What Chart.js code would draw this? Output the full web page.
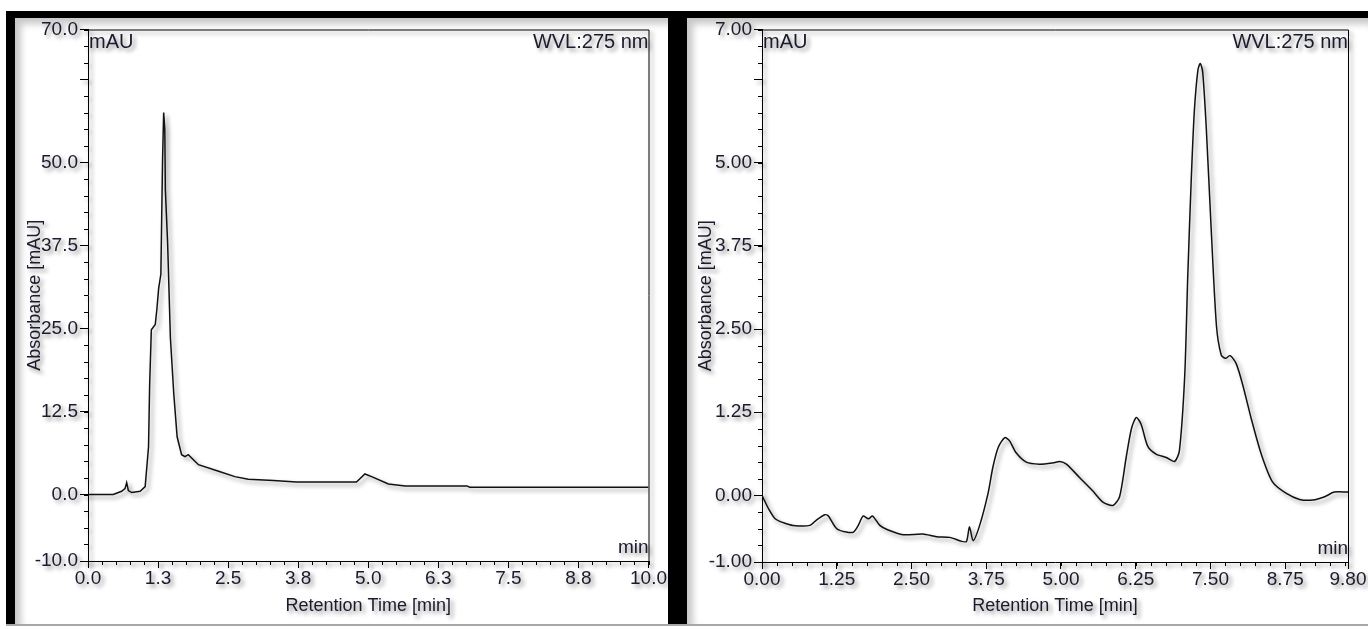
<!DOCTYPE html>
<html>
<head>
<meta charset="utf-8">
<script src="https://cdn.jsdelivr.net/npm/chart.js@4.4.1/dist/chart.umd.min.js"></script>
<style>
  html, body { margin: 0; padding: 0; background: #fff; width: 1368px; height: 629px; overflow: hidden; }
  .panel { position: absolute; background: #fff; box-shadow: inset 6px 6px 7px rgba(0,0,0,0.22); }
  .panel canvas { position: absolute; left: 0; top: 0; }
  .bar { position: absolute; background: #000; }
</style>
</head>
<body>
<div class="panel" id="panelL" style="left:15px;top:18px;width:653px;height:606px"><canvas id="chartL" width="653" height="606"></canvas></div>
<div class="panel" id="panelR" style="left:687px;top:18px;width:681px;height:606px"><canvas id="chartR" width="681" height="606"></canvas></div>
<div class="bar" style="left:6px;top:11px;width:1362px;height:7px"></div>
<div class="bar" style="left:6px;top:11px;width:9px;height:615px"></div>
<div class="bar" style="left:668px;top:11px;width:19px;height:615px"></div>
<div style="position:absolute;left:6px;top:624px;width:1362px;height:2px;background:#a8a8a8"></div>
<script>
// left chromatogram (0 - 10 min)
const timesL = [0, 0.45, 0.6, 0.66, 0.69, 0.72, 0.78, 0.93, 1.02, 1.08, 1.1, 1.13, 1.2, 1.23, 1.26, 1.3, 1.33, 1.35, 1.37, 1.38,
  1.42, 1.47, 1.53, 1.59, 1.67, 1.73, 1.79, 1.97, 2.33, 2.62, 2.86, 3.31, 3.72, 4.79, 4.94, 5.06, 5.36, 5.66, 6.76, 6.81, 10.0];
const absL = [0, 0, 0.5, 0.9, 1.8, 0.6, 0.3, 0.5, 1.2, 7.2, 16.6, 24.8, 25.6, 28, 31, 33.2, 50.3, 57.5, 55, 45.9,
  38, 23.6, 15.2, 8.7, 6.0, 5.7, 6.0, 4.5, 3.5, 2.7, 2.3, 2.1, 1.9, 1.9, 3.1, 2.7, 1.6, 1.3, 1.3, 1.1, 1.1];
const xTicksL = [0, 1.25, 2.5, 3.75, 5, 6.25, 7.5, 8.75, 10];
const xLabelsL = ['0.0', '1.3', '2.5', '3.8', '5.0', '6.3', '7.5', '8.8', '10.0'];
const yTicksL = [-10, 0, 12.5, 25, 37.5, 50, 62.5, 70];
const yLabelsL = ['-10.0', '0.0', '12.5', '25.0', '37.5', '50.0', '', '70.0'];

// right chromatogram (0 - 9.8 min)
const timesR = [0, 0.11, 0.22, 0.36, 0.52, 0.8, 0.91, 1.05, 1.11, 1.25, 1.41, 1.53, 1.61, 1.69, 1.78, 1.85, 1.97, 2.11, 2.36, 2.69,
  2.92, 3.14, 3.34, 3.42, 3.47, 3.53, 3.64, 3.78, 3.86, 3.95, 4.06, 4.14, 4.25, 4.42, 4.64, 4.87, 4.98, 5.09, 5.31, 5.53,
  5.7, 5.87, 5.98, 6.09, 6.18, 6.26, 6.34, 6.45, 6.59, 6.76, 6.9, 6.98, 7.07, 7.12, 7.18, 7.23, 7.29, 7.33, 7.37, 7.43,
  7.51, 7.6, 7.68, 7.75, 7.83, 7.93, 8.04, 8.18, 8.35, 8.54, 8.77, 8.99, 9.21, 9.41, 9.57, 9.8];
const absR = [0, -0.2, -0.35, -0.41, -0.45, -0.45, -0.37, -0.29, -0.31, -0.5, -0.55, -0.55, -0.45, -0.31, -0.35, -0.31, -0.45, -0.52, -0.59, -0.58,
  -0.62, -0.63, -0.69, -0.69, -0.47, -0.68, -0.45, 0.03, 0.42, 0.72, 0.87, 0.82, 0.64, 0.5, 0.47, 0.49, 0.51, 0.47, 0.27, 0.07,
  -0.1, -0.15, -0.02, 0.57, 1.01, 1.17, 1.07, 0.74, 0.62, 0.57, 0.51, 0.67, 1.81, 3.29, 4.78, 5.77, 6.39, 6.49, 6.36, 5.52,
  4.04, 2.55, 2.11, 2.06, 2.1, 1.98, 1.66, 1.16, 0.62, 0.2, 0.03, -0.06, -0.07, -0.02, 0.05, 0.05];
const xTicksR = [0, 1.25, 2.5, 3.75, 5, 6.25, 7.5, 8.75, 9.8];
const xLabelsR = ['0.00', '1.25', '2.50', '3.75', '5.00', '6.25', '7.50', '8.75', '9.80'];
const yTicksR = [-1, 0, 1.25, 2.5, 3.75, 5, 6.25, 7];
const yLabelsR = ['-1.00', '0.00', '1.25', '2.50', '3.75', '5.00', '', '7.00'];

const FONT = '"Liberation Sans", Arial, sans-serif';
const INK = '#1b1b2e';

function makeChart(id, cfg) {
  const decor = {
    id: 'decor',
    beforeDraw(chart) {
      const ctx = chart.ctx;
      ctx.save();
      ctx.shadowColor = 'rgba(0,0,0,0.45)';
      ctx.shadowBlur = 4;
      ctx.shadowOffsetX = 3;
      ctx.shadowOffsetY = 3;
    },
    afterDraw(chart) {
      const ctx = chart.ctx;
      const a = chart.chartArea;
      const xs = chart.scales.x, ys = chart.scales.y;
      ctx.strokeStyle = '#000';
      ctx.lineWidth = 1;
      ctx.beginPath();
      ctx.moveTo(a.left, a.top + 0.5);
      ctx.lineTo(a.right + 0.5, a.top + 0.5);
      ctx.lineTo(a.right + 0.5, a.bottom);
      ctx.stroke();
      // minor ticks
      ctx.beginPath();
      for (let v = xs.min; v <= xs.max + 1e-9; v += cfg.xMinor) {
        const px = Math.round(xs.getPixelForValue(v)) + 0.5;
        ctx.moveTo(px, a.bottom);
        ctx.lineTo(px, a.bottom + 4);
      }
      for (let v = ys.min; v <= ys.max + 1e-9; v += cfg.yMinor) {
        const py = Math.round(ys.getPixelForValue(v)) + 0.5;
        ctx.moveTo(a.left, py);
        ctx.lineTo(a.left - 4, py);
      }
      ctx.stroke();
      ctx.fillStyle = INK;
      ctx.font = '20px ' + FONT;
      ctx.textBaseline = 'middle';
      ctx.textAlign = 'left';
      ctx.fillText('mAU', a.left + 1, a.top + 13);
      ctx.textAlign = 'right';
      ctx.fillText('WVL:275 nm', a.right, a.top + 13);
      ctx.font = '19px ' + FONT;
      ctx.fillText('min', a.right, a.bottom - 13);
      ctx.restore();
    }
  };

  return new Chart(document.getElementById(id), {
    type: 'line',
    data: {
      datasets: [{
        data: cfg.times.map((t, i) => ({ x: t, y: cfg.values[i] })),
        borderColor: '#111',
        borderWidth: 1.5,
        pointRadius: 0,
        tension: cfg.tension,
        fill: false
      }]
    },
    options: {
      responsive: false,
      animation: false,
      events: [],
      layout: { autoPadding: false, padding: { left: 0, top: cfg.padTop, right: cfg.padRight, bottom: 0 } },
      plugins: { legend: { display: false }, tooltip: { enabled: false } },
      scales: {
        x: {
          type: 'linear',
          min: cfg.xTicks[0],
          max: cfg.xTicks[cfg.xTicks.length - 1],
          afterBuildTicks: s => { s.ticks = cfg.xTicks.map(v => ({ value: v })); },
          afterFit: s => { s.height = cfg.xHeight; },
          grid: { drawOnChartArea: false, tickLength: 7, tickColor: '#000' },
          border: { color: '#000', width: 1 },
          ticks: {
            autoSkip: false, maxRotation: 0, padding: 1, color: INK,
            font: { family: FONT, size: 19, lineHeight: 1 },
            callback: (v, i) => cfg.xLabels[i]
          },
          title: {
            display: true, text: 'Retention Time [min]', color: INK,
            font: { family: FONT, size: 18 }, padding: { top: 0, bottom: 7 }
          }
        },
        y: {
          type: 'linear',
          min: cfg.yTicks[0],
          max: cfg.yTicks[cfg.yTicks.length - 1],
          afterBuildTicks: s => { s.ticks = cfg.yTicks.map(v => ({ value: v })); },
          afterFit: s => { s.width = cfg.yWidth; },
          grid: { drawOnChartArea: false, tickLength: 8, tickColor: '#000' },
          border: { color: '#000', width: 1 },
          ticks: {
            autoSkip: false, padding: 2, color: INK,
            font: { family: FONT, size: 19, lineHeight: 1 },
            callback: (v, i) => cfg.yLabels[i]
          },
          title: {
            display: true, text: 'Absorbance [mAU]', color: INK,
            font: { family: FONT, size: 18 }, padding: { top: cfg.yTitlePad, bottom: 0 }
          }
        }
      }
    },
    plugins: [decor]
  });
}

makeChart('chartL', {
  times: timesL, values: absL, tension: 0,
  xTicks: xTicksL, xLabels: xLabelsL, yTicks: yTicksL, yLabels: yLabelsL,
  xMinor: 0.25, yMinor: 2.5,
  padTop: 8, padRight: 18, xHeight: 63, yWidth: 73, yTitlePad: 9
});

makeChart('chartR', {
  times: timesR, values: absR, tension: 0.25,
  xTicks: xTicksR, xLabels: xLabelsR, yTicks: yTicksR, yLabels: yLabelsR,
  xMinor: 0.25, yMinor: 0.25,
  padTop: 7, padRight: 20, xHeight: 62, yWidth: 75, yTitlePad: 8
});
</script>
</body>
</html>
